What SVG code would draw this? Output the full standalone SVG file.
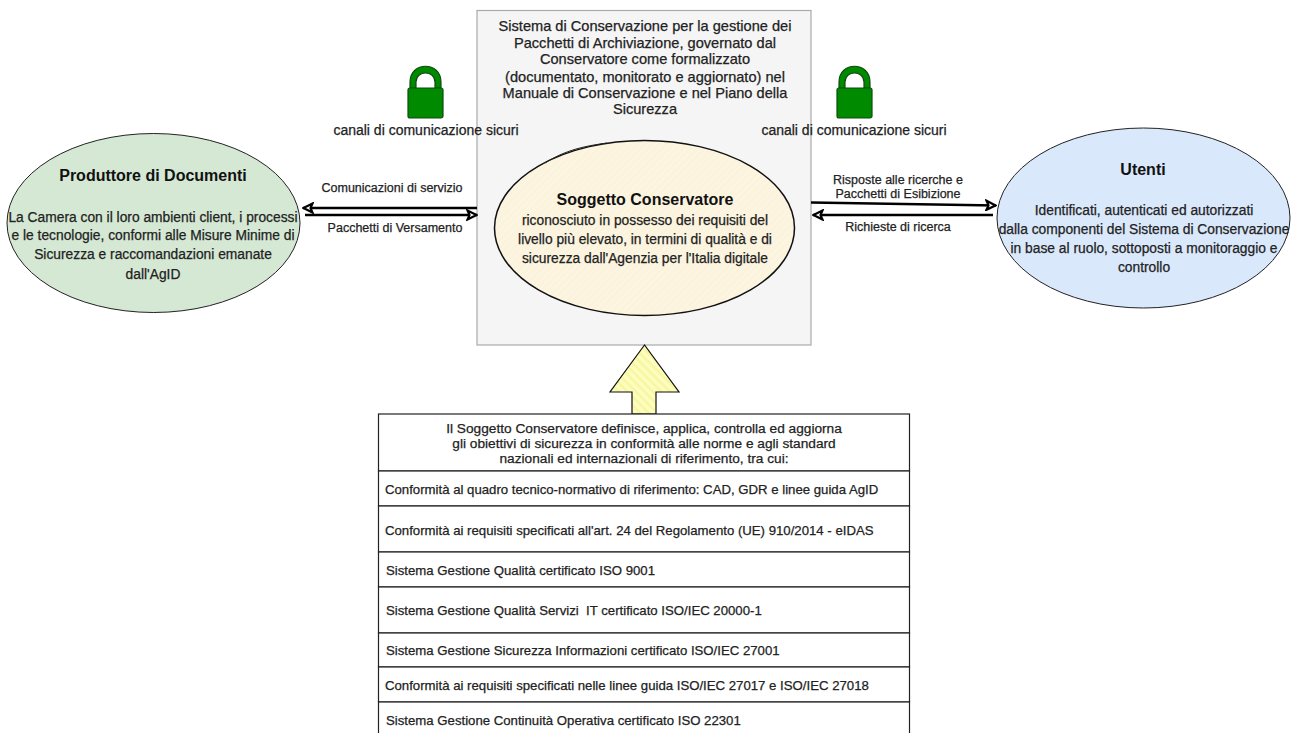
<svg xmlns="http://www.w3.org/2000/svg" width="1292" height="733" viewBox="0 0 1292 733">
<style>
text{font-family:"Liberation Sans",Arial,sans-serif;font-size:13.8px;fill:#222;text-anchor:middle;stroke:#222;stroke-width:.25px;white-space:pre}
.h{font-size:14.6px}
.t{font-size:16px;font-weight:bold;fill:#111;stroke:none}
.s{font-size:12.5px}
.l{text-anchor:start;font-size:13.2px}
.c{font-size:14px}
.m{font-size:13.7px}
.cn{fill:none;stroke:#000;stroke-width:2.500;marker-end:url(#ah)}
.row{fill:#fff;stroke:#222;stroke-width:1.2}
</style>
<defs>
<marker id="ah" viewBox="0 0 12 12" refX="11" refY="6" markerWidth="12" markerHeight="12" orient="auto" markerUnits="userSpaceOnUse"><path d="M1.500 1.500L10.500 6L1.500 10.500L3.500 6Z" fill="#fff" stroke="#000" stroke-width="2.200"/></marker>
<pattern id="hy" width="5" height="5" patternUnits="userSpaceOnUse" patternTransform="rotate(-45)"><rect width="5" height="5" fill="#fbf3dc"/><rect width="5" height="1.4" fill="#fdf6e6"/></pattern>
<pattern id="ha" width="6" height="6" patternUnits="userSpaceOnUse" patternTransform="rotate(45)"><rect width="6" height="6" fill="#fdfdc0"/><rect width="6" height="2.5" fill="#f8f6a0"/></pattern>
<g id="lk"><path d="M-15.500 -28V-34C-15.500 -55 15.500 -55 15.500 -34V-28H9.500V-34C9.500 -46 -9.500 -46 -9.500 -34V-28Z" fill="#008a00" stroke="#0d4d0d" stroke-width="1.2"/><rect x="-17.500" y="-28" width="35" height="30" rx="2" fill="#008a00" stroke="#0d4d0d" stroke-width="1.2"/></g>
</defs>
<rect width="1292" height="733" fill="#fff"/>
<g id="sistema">
<rect x="477" y="10.500" width="334" height="334.500" fill="#f5f5f5" stroke="#aaa" stroke-width="1.2"/>
<text x="645" y="31" class="h">Sistema di Conservazione per la gestione dei</text>
<text x="645" y="48" class="h">Pacchetti di Archiviazione, governato dal</text>
<text x="645" y="64" class="h">Conservatore come formalizzato</text>
<text x="645" y="82" class="h">(documentato, monitorato e aggiornato) nel</text>
<text x="645" y="98" class="h">Manuale di Conservazione e nel Piano della</text>
<text x="645" y="114" class="h">Sicurezza</text>
</g>
<g id="lock-left"><use href="#lk" x="425.500" y="116"/><text x="426" y="135" class="c">canali di comunicazione sicuri</text></g>
<g id="lock-right"><use href="#lk" x="854.500" y="116"/><text x="854" y="135" class="c">canali di comunicazione sicuri</text></g>
<g id="produttore">
<ellipse cx="153.500" cy="223" rx="146.500" ry="89.500" fill="#d5e8d4" stroke="#222" stroke-width="1"/>
<text x="153" y="181" class="t">Produttore di Documenti</text>
<text x="153" y="222">La Camera con il loro ambienti client, i processi</text>
<text x="153" y="240">e le tecnologie, conformi alle Misure Minime di</text>
<text x="153" y="259">Sicurezza e raccomandazioni emanate</text>
<text x="153" y="279">dall'AgID</text>
</g>
<g id="conservatore">
<ellipse cx="644.500" cy="228" rx="150" ry="87.500" fill="url(#hy)" stroke="#111" stroke-width="1.500"/>
<path d="M545 163C565 150 585 146 607 143" fill="none" stroke="#222" stroke-width="1"/>
<text x="645" y="205" class="t">Soggetto Conservatore</text>
<text x="645" y="225">riconosciuto in possesso dei requisiti del</text>
<text x="645" y="244">livello più elevato, in termini di qualità e di</text>
<text x="645" y="263">sicurezza dall'Agenzia per l'Italia digitale</text>
</g>
<g id="utenti">
<ellipse cx="1143.500" cy="218" rx="146.500" ry="90" fill="#dae8fc" stroke="#222" stroke-width="1"/>
<text x="1143" y="175" class="t">Utenti</text>
<text x="1144" y="215">Identificati, autenticati ed autorizzati</text>
<text x="1144" y="234">dalla componenti del Sistema di Conservazione</text>
<text x="1144" y="253">in base al ruolo, sottoposti a monitoraggio e</text>
<text x="1144" y="272">controllo</text>
</g>
<g id="connectors">
<path class="cn" d="M477 208L303 208"/>
<path class="cn" d="M305 215L477 215"/>
<path class="cn" d="M811 202.500L996 205.500"/>
<path class="cn" d="M993 215L813 215"/>
</g>
<g id="labels">
<text x="392" y="192" class="s">Comunicazioni di servizio</text>
<text x="395" y="232" class="s">Pacchetti di Versamento</text>
<text x="898" y="184" class="s">Risposte alle ricerche e</text>
<text x="898" y="198" class="s">Pacchetti di Esibizione</text>
<text x="898" y="231" class="s">Richieste di ricerca</text>
</g>
<g id="freccia"><path d="M644.500 345L610 392H632V414H656V392H679Z" fill="url(#ha)" stroke="#111" stroke-width="1.200"/></g>
<g id="tabella">
<rect class="row" x="378.500" y="414" width="531" height="57"/>
<rect class="row" x="378.500" y="471" width="531" height="35"/>
<rect class="row" x="378.500" y="506" width="531" height="46"/>
<rect class="row" x="378.500" y="552" width="531" height="35"/>
<rect class="row" x="378.500" y="587" width="531" height="46"/>
<rect class="row" x="378.500" y="633" width="531" height="34"/>
<rect class="row" x="378.500" y="667" width="531" height="35"/>
<rect class="row" x="378.500" y="702" width="531" height="45"/>
<text x="644" y="433" class="m">Il Soggetto Conservatore definisce, applica, controlla ed aggiorna</text>
<text x="644" y="448" class="m">gli obiettivi di sicurezza in conformità alle norme e agli standard</text>
<text x="644" y="463" class="m">nazionali ed internazionali di riferimento, tra cui:</text>
<text x="385" y="494" class="l">Conformità al quadro tecnico-normativo di riferimento: CAD, GDR e linee guida AgID</text>
<text x="385" y="535" class="l">Conformità ai requisiti specificati all'art. 24 del Regolamento (UE) 910/2014 - eIDAS</text>
<text x="386" y="575" class="l">Sistema Gestione Qualità certificato ISO 9001</text>
<text x="386" y="615" class="l">Sistema Gestione Qualità Servizi  IT certificato ISO/IEC 20000-1</text>
<text x="386" y="655" class="l">Sistema Gestione Sicurezza Informazioni certificato ISO/IEC 27001</text>
<text x="385" y="690" class="l">Conformità ai requisiti specificati nelle linee guida ISO/IEC 27017 e ISO/IEC 27018</text>
<text x="386" y="725" class="l">Sistema Gestione Continuità Operativa certificato ISO 22301</text>
</g>
</svg>
